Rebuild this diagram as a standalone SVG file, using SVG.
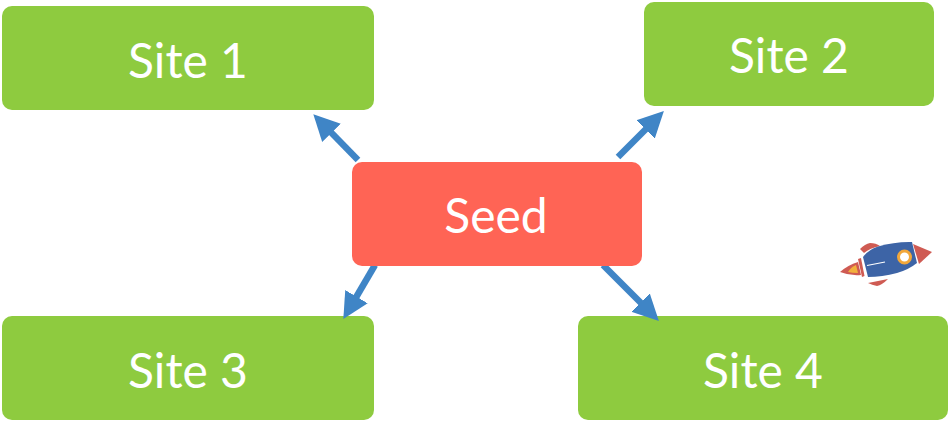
<svg xmlns="http://www.w3.org/2000/svg" width="950" height="422" viewBox="0 0 950 422">
<style>
.site{fill:#8ecb3f}
.seed{fill:#ff6455}
text{font-family:Lato,"Noto Sans",sans-serif;font-size:48px;fill:#fff;text-anchor:middle}
.c{stroke:#3f85c6;stroke-width:6.5;fill:none;marker-end:url(#a)}
</style>
<defs>
<marker id="a" markerUnits="userSpaceOnUse" markerWidth="27" markerHeight="27" refX="12" refY="13.500" orient="auto" viewBox="0 0 27 27"><path d="M0 0.500L26 13.500L0 26.500Z" fill="#3f85c6"/></marker>
</defs>
<g id="site1"><rect class="site" x="2" y="6" width="372" height="104" rx="10"/><text x="188" y="78">Site 1</text></g>
<g id="site2"><rect class="site" x="644" y="2" width="290" height="104" rx="10"/><text x="789" y="73">Site 2</text></g>
<g id="site3"><rect class="site" x="2" y="316" width="372" height="104" rx="10"/><text x="188" y="388">Site 3</text></g>
<g id="site4"><rect class="site" x="578" y="316" width="370" height="104" rx="10"/><text x="763" y="388">Site 4</text></g>
<g id="connectors">
<path class="c" d="M358 160L323.100 124.300"/>
<path class="c" d="M618 157L654 121"/>
<path class="c" d="M375 265L350.400 307"/>
<path class="c" d="M603 265L649 311"/>
</g>
<g id="seed"><rect class="seed" x="352" y="162" width="290" height="104" rx="10"/><text x="496" y="233">Seed</text></g>
<g id="rocket">
<path d="M860 249Q865 244 870 243Q876 243 880 246Q870 248 864 253Z" fill="#cf5b53"/>
<path d="M868 283Q878 281 888 279Q882 285 877 286Q872 285 868 283Z" fill="#cf5b53"/>
<path d="M840 272Q848 265 858 262L861 275Q850 276 840 272Z" fill="#cf5b53"/>
<path d="M848 272Q851 267 856 265L858 273Q852 273 848 272Z" fill="#f2b03c"/>
<path d="M858 259L861 258L864.500 276L862 277Z" fill="#cf5b53"/>
<path d="M863 257Q868 250 878 246.500Q895 241.500 912 242L917 263Q908 270 897 273Q882 277 868 277Z" fill="#3d64a6"/>
<circle cx="904.500" cy="257" r="6" fill="#fff" stroke="#f2a73a" stroke-width="3"/>
<path d="M867 265.500L885 262" stroke="#fff" stroke-width="1.200"/>
<path d="M913 244L932 252L919 264Z" fill="#cf5b53"/>
</g>
</svg>
